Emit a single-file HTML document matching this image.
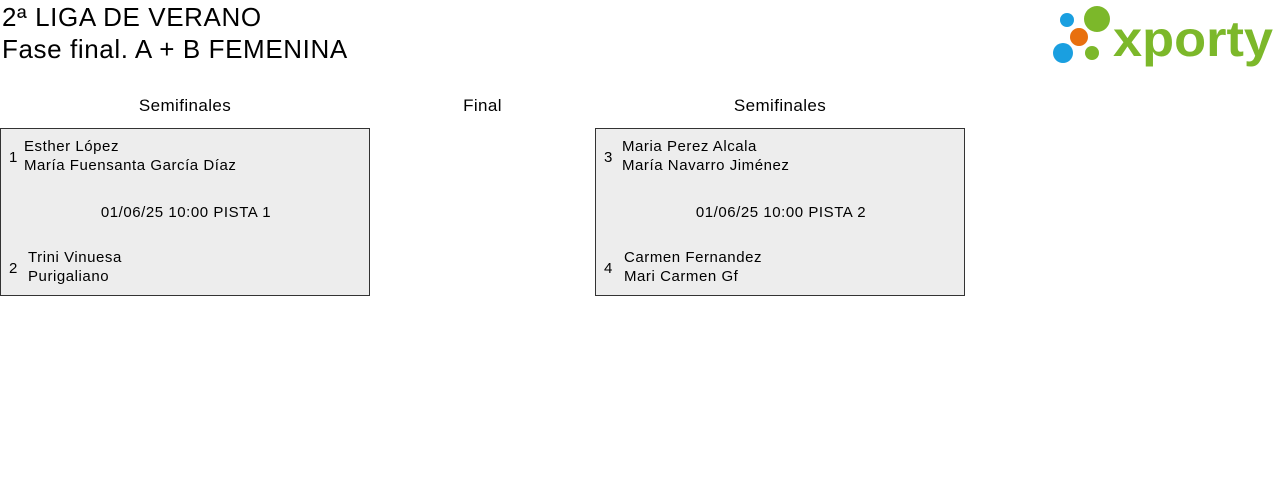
<!DOCTYPE html>
<html><head><meta charset="utf-8"><style>
body{margin:0;width:1280px;height:481px;background:#fff;font-family:"Liberation Sans",sans-serif;color:#000;position:relative;overflow:hidden}
.a{position:absolute;white-space:nowrap}
.h{font-size:26px;left:2px;letter-spacing:0.6px}
.col{font-size:17px;text-align:center;letter-spacing:0.4px}
.box{position:absolute;top:128px;width:368px;height:166px;background:#ededed;border:1px solid #333}
.t{font-size:15px;position:absolute;white-space:nowrap;line-height:19px;letter-spacing:0.55px}
</style></head><body>
<div class="a h" style="top:2px">2ª LIGA DE VERANO</div>
<div class="a h" style="top:34px">Fase final. A + B FEMENINA</div>
<div class="a col" style="left:0;width:370px;top:96px">Semifinales</div>
<div class="a col" style="left:420px;width:125px;top:96px">Final</div>
<div class="a col" style="left:595px;width:370px;top:96px">Semifinales</div>
<div class="box" style="left:0">
<div class="t" style="left:8px;top:19px">1</div>
<div class="t" style="left:23px;top:8px">Esther López<br>María Fuensanta García Díaz</div>
<div class="t" style="left:0;width:370px;text-align:center;top:74px">01/06/25 10:00 PISTA 1</div>
<div class="t" style="left:8px;top:130px">2</div>
<div class="t" style="left:27px;top:119px">Trini Vinuesa<br>Purigaliano</div>
</div>
<div class="box" style="left:595px">
<div class="t" style="left:8px;top:19px">3</div>
<div class="t" style="left:26px;top:8px">Maria Perez Alcala<br>María Navarro Jiménez</div>
<div class="t" style="left:0;width:370px;text-align:center;top:74px">01/06/25 10:00 PISTA 2</div>
<div class="t" style="left:8px;top:130px">4</div>
<div class="t" style="left:28px;top:119px">Carmen Fernandez<br>Mari Carmen Gf</div>
</div>
<svg class="a" style="left:1040px;top:0" width="240" height="70">
<circle cx="27" cy="20" r="7" fill="#1a9fe0"/>
<circle cx="57" cy="19" r="13" fill="#7cb82a"/>
<circle cx="39" cy="37" r="9" fill="#e8700f"/>
<circle cx="23" cy="53" r="10" fill="#1a9fe0"/>
<circle cx="52" cy="53" r="7" fill="#7cb82a"/>
<text x="73" y="56" font-family="Liberation Sans" font-weight="bold" font-size="50" fill="#7cb82a" textLength="160" lengthAdjust="spacingAndGlyphs">xporty</text>
</svg>
</body></html>
